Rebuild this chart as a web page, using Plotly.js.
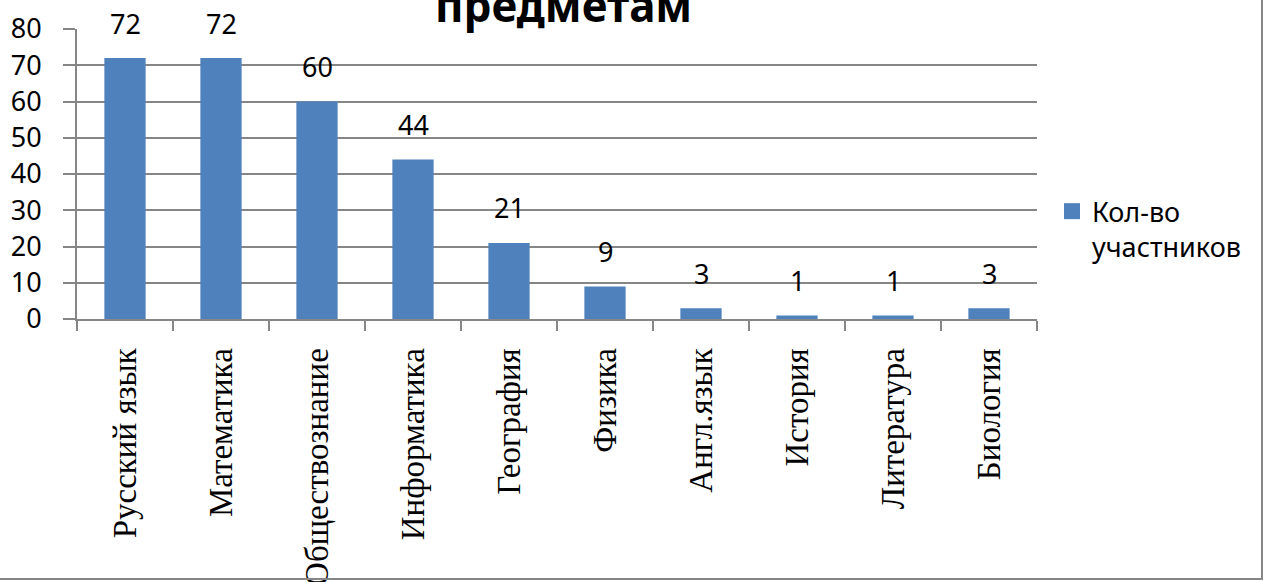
<!DOCTYPE html>
<html><head><meta charset="utf-8">
<script src="https://cdn.plot.ly/plotly-3.0.1.min.js"></script>
<style>
html,body{margin:0;padding:0;background:#fff;overflow:hidden}
#wrap{position:relative;width:1265px;height:582px}
#chart{width:1265px;height:582px}
#frame{position:absolute;left:-2px;top:-2px;width:1263px;height:580px;border-right:2px solid #868686;border-bottom:2px solid #868686;pointer-events:none}
</style></head>
<body><div id="wrap"><div id="chart"></div><div id="frame"></div></div>
<script>
const categories = ["Русский язык","Математика","Обществознание","Информатика","География","Физика","Англ.язык","История","Литература","Биология"];
const participants = [72,72,60,44,21,9,3,1,1,3];
const seriesName = "Кол-во<br>участников";
const yTicks = [0,10,20,30,40,50,60,70,80];
const titleText = "предметам";

const numFont = {family:"Noto Sans, Open Sans, sans-serif", size:27, color:"#000"};

const annotations = categories.map((c,i)=>({
  x:c, y:participants[i], xref:'x', yref:'y', text:String(participants[i]),
  showarrow:false, yanchor:'middle', yshift:35, font:numFont
}));
annotations.push({
  x:0.507, y:1, xref:'paper', yref:'paper', text:'<b>'+titleText+'</b>', showarrow:false,
  yanchor:'bottom', yshift:-8, font:{family:"Noto Sans, Open Sans, sans-serif", size:44, color:"#000"}
});

Plotly.newPlot('chart',[{
  type:'bar', x:categories, y:participants, name:seriesName,
  marker:{color:'#4F81BD'}, showlegend:false
},{
  type:'scatter', mode:'markers', x:categories, y:participants.map(()=>null), name:seriesName,
  marker:{color:'#4F81BD', symbol:'square', size:19}, showlegend:true, hoverinfo:'skip'
}],{
  width:1265, height:582,
  margin:{l:77,r:228,t:29,b:263,pad:0},
  paper_bgcolor:'#fff', plot_bgcolor:'#fff',
  bargap:0.57,
  showlegend:true,
  legend:{x:1.0156, xanchor:'left', y:0.31, yanchor:'middle', valign:'top', font:numFont, itemsizing:'trace', bgcolor:'rgba(0,0,0,0)'},
  xaxis:{
    type:'category', range:[-0.5, categories.length-0.5], autorange:false,
    tickangle:-90, tickson:'boundaries', ticks:'outside', ticklen:10, tickwidth:2, tickcolor:'#868686',
    showline:true, linecolor:'#868686', linewidth:2, showgrid:false, ticklabelstandoff:14,
    tickfont:{family:"Liberation Serif, Times New Roman, serif", size:33, color:'#000'}
  },
  yaxis:{
    range:[0,80], tickvals:yTicks, ticktext:yTicks.map(String), ticks:'outside', ticklen:12, tickwidth:2, tickcolor:'#868686',
    showline:true, linecolor:'#868686', linewidth:2, showgrid:true, gridcolor:'#868686', gridwidth:2,
    zeroline:false, tickfont:numFont, ticklabelstandoff:16, fixedrange:true
  },
  annotations:annotations
},{staticPlot:true});
</script></body></html>
